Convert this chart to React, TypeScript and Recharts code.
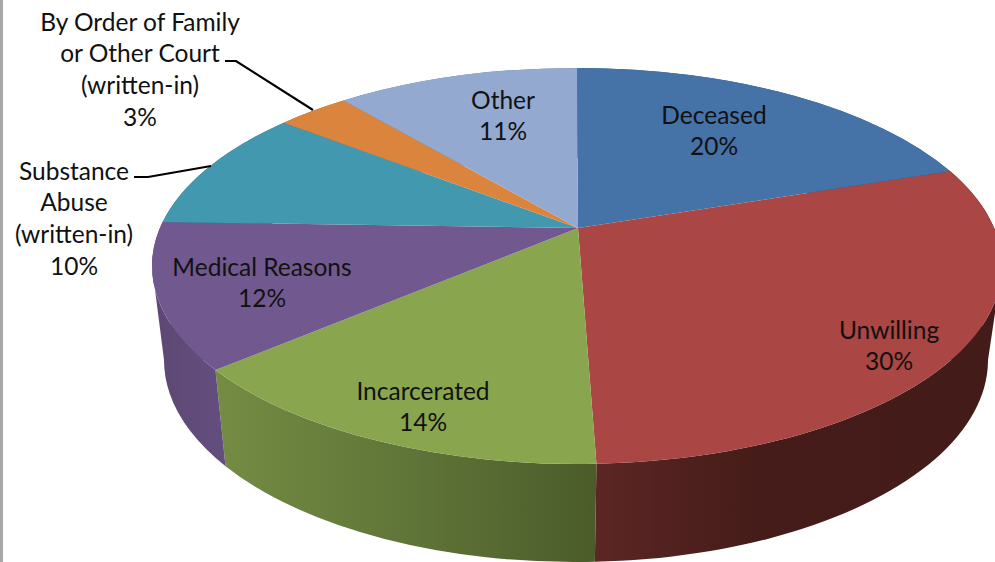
import { PieChart, Pie } from 'recharts';

const CATEGORIES = ['Deceased', 'Unwilling', 'Incarcerated', 'Medical Reasons', 'Substance Abuse (written-in)', 'By Order of Family or Other Court (written-in)', 'Other'];
const VALUES = [19.9, 29.5, 14.3, 11.8, 10.1, 3.3, 11.1];
const LABEL_LINES = [
  ['Deceased'],
  ['Unwilling'],
  ['Incarcerated'],
  ['Medical Reasons'],
  ['Substance', 'Abuse', '(written-in)'],
  ['By Order of Family', 'or Other Court', '(written-in)'],
  ['Other'],
];
const COLORS = ['#4572A7', '#AA4643', '#89A54E', '#71588F', '#4198AF', '#DB843D', '#93A9CF'];
// left / middle / right shade of the side wall of each slice
const WALL_SHADES = [
  ['#34557d', '#34557d', '#34557d'],
  ['#5c2624', '#451c19', '#431b18'],
  ['#748c43', '#647a3b', '#4b5c2a'],
  ['#5c4674', '#604a78', '#644e7e'],
  ['#317285', '#317285', '#317285'],
  ['#a5632d', '#a5632d', '#a5632d'],
  ['#6e7f9b', '#6e7f9b', '#6e7f9b'],
];

// where each label block is centred: x, y of first line
const LABEL_POS = [
  [714, 114],
  [889, 329],
  [423, 390],
  [262, 266],
  [74, 170],
  [140, 21],
  [503, 99],
];
const LEADERS: Record<number, string> = {
  4: '134,177 148,177 211,166',
  5: '225,61 236,61 313,110',
};

const W = 995;
const H = 562;
const LINE_H = 31.7;

// perspective of the tilted disc
const SQUASH = 198 / 425;
const APEX = -38 / 198; // pie centre sits above the middle of the ellipse
const BOTTOM = { dx: -1, dy: 94, rx: 412 / 425, ry: 202 / 425 };
const SIDE_T = (Math.acos(APEX) * 180) / Math.PI; // clockwise from top, where the rim is widest

const rows = CATEGORIES.map((name, i) => ({ name, value: VALUES[i], fill: COLORS[i] }));
const wallRows = CATEGORIES.map((name, i) => ({ name, value: VALUES[i], fill: `url(#wall-${i})` }));

// data angle -> point on the unit rim, after perspective
const rimPoint = (angle: number) => {
  const t = ((90 - angle) * Math.PI) / 180;
  const X = Math.sin(t);
  const Y = -Math.cos(t);
  const d = 1 + APEX * Y;
  return { x: (X * Math.sqrt(1 - APEX * APEX)) / d, y: (Y + APEX) / d };
};

const TopSlice = (props: any) => {
  const { cx, cy, outerRadius: r, startAngle, endAngle, fill } = props;
  const ry = r * SQUASH;
  const a = rimPoint(startAngle);
  const b = rimPoint(endAngle);
  const d = `M${cx + 1},${cy + APEX * ry} L${cx + a.x * r},${cy + a.y * ry} A${r},${ry} 0 0 1 ${cx + b.x * r},${cy + b.y * ry} Z`;
  return <path d={d} fill={fill} />;
};

const WallSlice = (props: any) => {
  const { cx, cy, outerRadius: r, startAngle, endAngle, fill } = props;
  const ry = r * SQUASH;
  const brx = r * BOTTOM.rx;
  const bry = r * BOTTOM.ry;
  const bcx = cx + BOTTOM.dx;
  const bcy = cy + BOTTOM.dy;
  const a = rimPoint(startAngle);
  const b = rimPoint(endAngle);
  let d =
    `M${cx + a.x * r},${cy + a.y * ry} A${r},${ry} 0 0 1 ${cx + b.x * r},${cy + b.y * ry} ` +
    `L${bcx + b.x * brx},${bcy + b.y * bry} A${brx},${bry} 0 0 0 ${bcx + a.x * brx},${bcy + a.y * bry} Z`;
  // fill the straight silhouette between the two rims at the far left and right
  const t0 = 90 - startAngle;
  const t1 = 90 - endAngle;
  if (t0 <= SIDE_T && SIDE_T < t1) {
    d += ` M${cx + r},${cy} L${bcx + brx - 60},${bcy} L${bcx + brx},${bcy} Z`;
  }
  if (t0 <= 360 - SIDE_T && 360 - SIDE_T < t1) {
    d += ` M${cx - r},${cy} L${bcx - brx},${bcy} L${bcx - brx + 60},${bcy} Z`;
  }
  return <path d={d} fill={fill} />;
};

const renderLabel = (props: any) => {
  const { index, percent } = props;
  const [x, y] = LABEL_POS[index];
  const lines = [...LABEL_LINES[index], `${Math.round(percent * 100)}%`];
  return (
    <g key={index}>
      {LEADERS[index] && <polyline points={LEADERS[index]} fill="none" stroke="#000" strokeWidth={2.2} />}
      {lines.map((line, i) => (
        <text
          key={i}
          x={x}
          y={y + i * LINE_H}
          textAnchor="middle"
          dominantBaseline="central"
          fontFamily="Lato, sans-serif"
          fontSize={24.5}
          fill="#111"
        >
          {line}
        </text>
      ))}
    </g>
  );
};

export default function App() {
  return (
    <div style={{ position: 'absolute', left: 0, top: 0, width: W, height: H, overflow: 'hidden', background: '#fff' }}>
      <div style={{ position: 'absolute', left: 0, top: 0, width: 2.5, height: H, background: '#a8a8a8' }} />
      <PieChart width={W} height={H} margin={{ top: 0, right: 0, bottom: 0, left: 0 }}>
        <defs>
          {WALL_SHADES.map((s, i) => (
            <linearGradient key={i} id={`wall-${i}`} x1="0" y1="0" x2="1" y2="0">
              <stop offset="0%" stopColor={s[0]} />
              <stop offset="40%" stopColor={s[1]} />
              <stop offset="100%" stopColor={s[2]} />
            </linearGradient>
          ))}
        </defs>
        <Pie
          data={wallRows}
          dataKey="value"
          nameKey="name"
          cx={577}
          cy={266}
          outerRadius={425}
          startAngle={90}
          endAngle={-270}
          stroke="none"
          shape={WallSlice}
          isAnimationActive={false}
        />
        <Pie
          data={rows}
          dataKey="value"
          nameKey="name"
          cx={577}
          cy={266}
          outerRadius={425}
          startAngle={90}
          endAngle={-270}
          stroke="none"
          shape={TopSlice}
          label={renderLabel}
          labelLine={false}
          isAnimationActive={false}
        />
      </PieChart>
    </div>
  );
}
